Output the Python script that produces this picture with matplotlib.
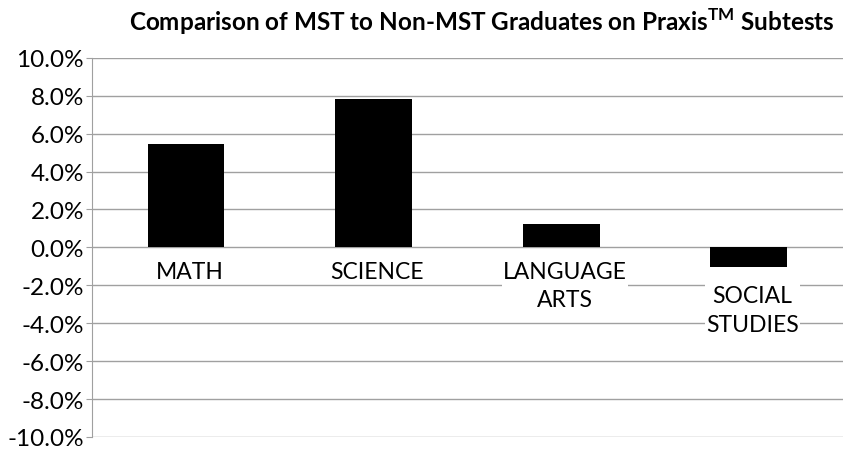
import numpy as np
import matplotlib
matplotlib.use("Agg")
import matplotlib.pyplot as plt
from matplotlib.ticker import FuncFormatter

plt.rcParams["font.family"] = ["Lato", "DejaVu Sans"]

categories = ["MATH", "SCIENCE", "LANGUAGE\nARTS", "SOCIAL\nSTUDIES"]
values = [5.45, 7.85, 1.25, -1.05]  # percent difference
yticks = [-10, -8, -6, -4, -2, 0, 2, 4, 6, 8, 10]

fig = plt.figure(figsize=(8.46, 4.52), dpi=100)
ax = fig.add_axes([0.109, 0.031, 0.887, 0.839])

x = np.arange(len(categories))
ax.bar(x, values, width=0.41, color="black", zorder=3)

ax.set_xlim(-0.5, len(categories) - 0.5)
ax.set_ylim(-10, 10)
ax.set_yticks(yticks)
ax.yaxis.set_major_formatter(FuncFormatter(lambda v, p: f"{v:.1f}%"))
ax.tick_params(axis="y", labelsize=17.5, length=4, color="#a0a0a0", pad=2)
ax.set_xticks([])
ax.grid(axis="y", color="#a0a0a0", lw=1, zorder=0)
for s in ["top", "right", "bottom"]:
    ax.spines[s].set_visible(False)
ax.spines["left"].set_color("#a0a0a0")

# category labels sit just under the zero line (or under negative bars)
for xi, cat, v in zip(x, categories, values):
    y0 = -0.7 if v >= 0 else v - 0.95
    ax.text(xi + 0.02, y0, cat, ha="center", va="top", fontsize=16.5,
            linespacing=1.45, zorder=4,
            bbox=dict(facecolor="white", edgecolor="none", pad=1))

fig.suptitle("Comparison of MST to Non-MST Graduates on Praxis$^{\\mathregular{TM}}$ Subtests",
             x=0.57, y=0.985, fontsize=17.5, fontweight="bold")

fig.savefig("out.png", dpi=100)
